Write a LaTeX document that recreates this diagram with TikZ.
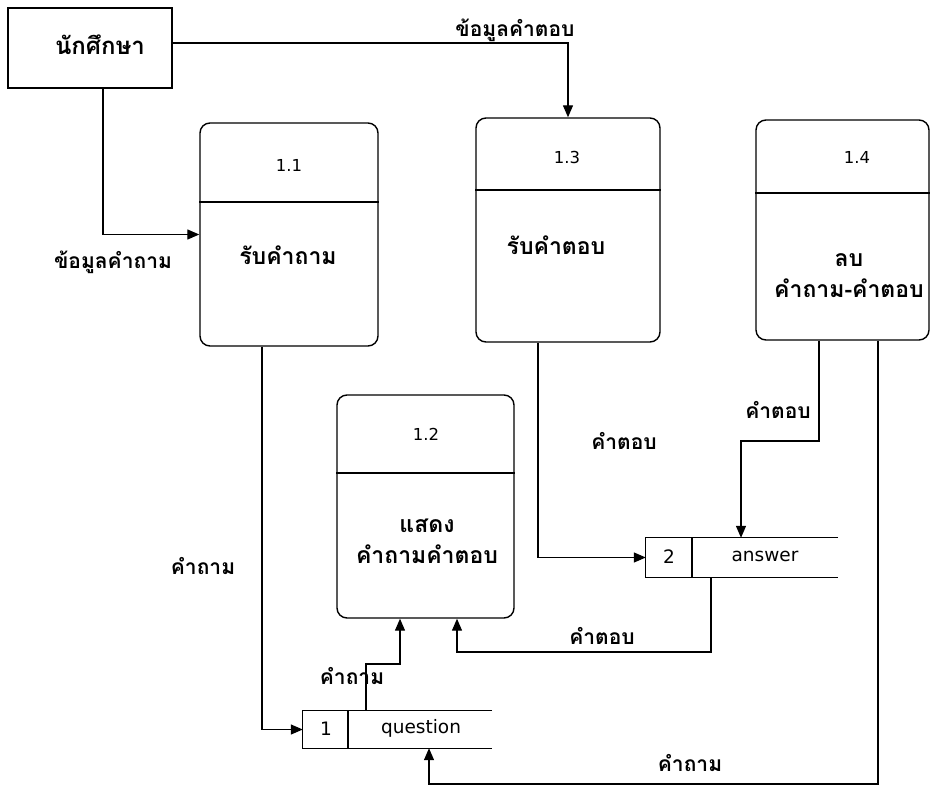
\documentclass[tikz,border=0pt]{standalone}
\usepackage{fontspec}
\setmainfont{DejaVu Sans}
\newfontfamily\thai[Script=Thai]{Loma}
\usetikzlibrary{arrows.meta}
\tikzset{
  proc/.style={draw, line width=1.4pt, rounded corners=10pt, inner sep=0pt},
  ext/.style={draw, line width=2.6pt, inner sep=0pt},
  store/.style={inner sep=0pt},
  flow/.style={line width=1.3pt, -{Triangle[length=12pt,width=10pt]}},
  lbl/.style={font=\thai\bfseries\fontsize{21}{24}\selectfont, inner sep=0pt},
  btxt/.style={font=\thai\bfseries\fontsize{23}{31}\selectfont, inner sep=0pt, align=center},
  num/.style={font=\fontsize{16.5}{18}\selectfont, inner sep=0pt},
  sname/.style={font=\fontsize{18.5}{20}\selectfont, inner sep=0pt},
}
\begin{document}
\begin{tikzpicture}[x=1pt,y=-1pt]
\useasboundingbox (0,0) rectangle (931,787);
% external entity
\node[ext, minimum width=164pt, minimum height=80pt] (st) at (90,48) {};
\node[btxt, font=\thai\bfseries\fontsize{24}{26}\selectfont] (stt) at (100,45) {นักศึกษา};
% processes
\node[proc, minimum width=178pt, minimum height=223pt] (p11) at (289,234.5) {};
\draw[line width=1.4pt] (p11.west |- 0,202) -- (p11.east |- 0,202);
\node[num] (p11n) at (289,165) {1.1};
\node[btxt] (p11t) at (288,255) {รับคำถาม};

\node[proc, minimum width=184pt, minimum height=224pt] (p13) at (568,230) {};
\draw[line width=1.4pt] (p13.west |- 0,190) -- (p13.east |- 0,190);
\node[num] (p13n) at (567,157) {1.3};
\node[btxt] (p13t) at (556,245) {รับคำตอบ};

\node[proc, minimum width=173pt, minimum height=220pt] (p14) at (842.5,230) {};
\draw[line width=1.4pt] (p14.west |- 0,193) -- (p14.east |- 0,193);
\node[num] (p14n) at (857,157) {1.4};
\node[btxt] (p14t) at (849,276) {ลบ\\คำถาม-คำตอบ};

\node[proc, minimum width=177pt, minimum height=223pt] (p12) at (425.5,506.5) {};
\draw[line width=1.4pt] (p12.west |- 0,473) -- (p12.east |- 0,473);
\node[num] (p12n) at (426,434) {1.2};
\node[btxt] (p12t) at (427,541) {แสดง\\คำถามคำตอบ};

% data stores
\node[store, minimum width=189pt, minimum height=37pt] (s1) at (397.5,729.5) {};
\draw[line width=1.2pt] (s1.north east) -- (s1.north west) -- (s1.south west) -- (s1.south east);
\draw[line width=1.2pt] (s1.north -| 348,0) -- (s1.south -| 348,0);
\node[sname] (s1i) at (326,729) {1};
\node[sname] (s1n) at (421,728) {question};

\node[store, minimum width=192pt, minimum height=39pt] (s2) at (742,557.5) {};
\draw[line width=1.2pt] (s2.north east) -- (s2.north west) -- (s2.south west) -- (s2.south east);
\draw[line width=1.2pt] (s2.north -| 692,0) -- (s2.south -| 692,0);
\node[sname] (s2i) at (669,557) {2};
\node[sname] (s2n) at (765,556) {answer};

% flows
\draw[flow] (st.east |- 0,43) -| (p13.north);
\node[lbl] (l1) at (515,30) {ข้อมูลคำตอบ};

\draw[flow] (st.south -| 103,0) |- (p11.west);
\node[lbl] (l2) at (113,262) {ข้อมูลคำถาม};

\draw[flow] (p11.south -| 262,0) |- (s1.west);
\node[lbl] (l3) at (203,566) {คำถาม};

\draw[flow] (s1.north -| 366,0) |- (400,664) -- (p12.south -| 400,0);
\node[lbl] (l4) at (352,676) {คำถาม};

\draw[flow] (p13.south -| 538,0) |- (s2.west);
\node[lbl] (l5) at (624,441) {คำตอบ};

\draw[flow] (p14.south -| 819,0) |- (741,441) -- (s2.north -| 741,0);
\node[lbl] (l6) at (778,410) {คำตอบ};

\draw[flow] (s2.south -| 711,0) |- (457,652) -- (p12.south -| 457,0);
\node[lbl] (l7) at (602,636) {คำตอบ};

\draw[flow] (p14.south -| 878,0) |- (429,784) -- (s1.south -| 429,0);
\node[lbl] (l8) at (690,763) {คำถาม};
\end{tikzpicture}
\end{document}
